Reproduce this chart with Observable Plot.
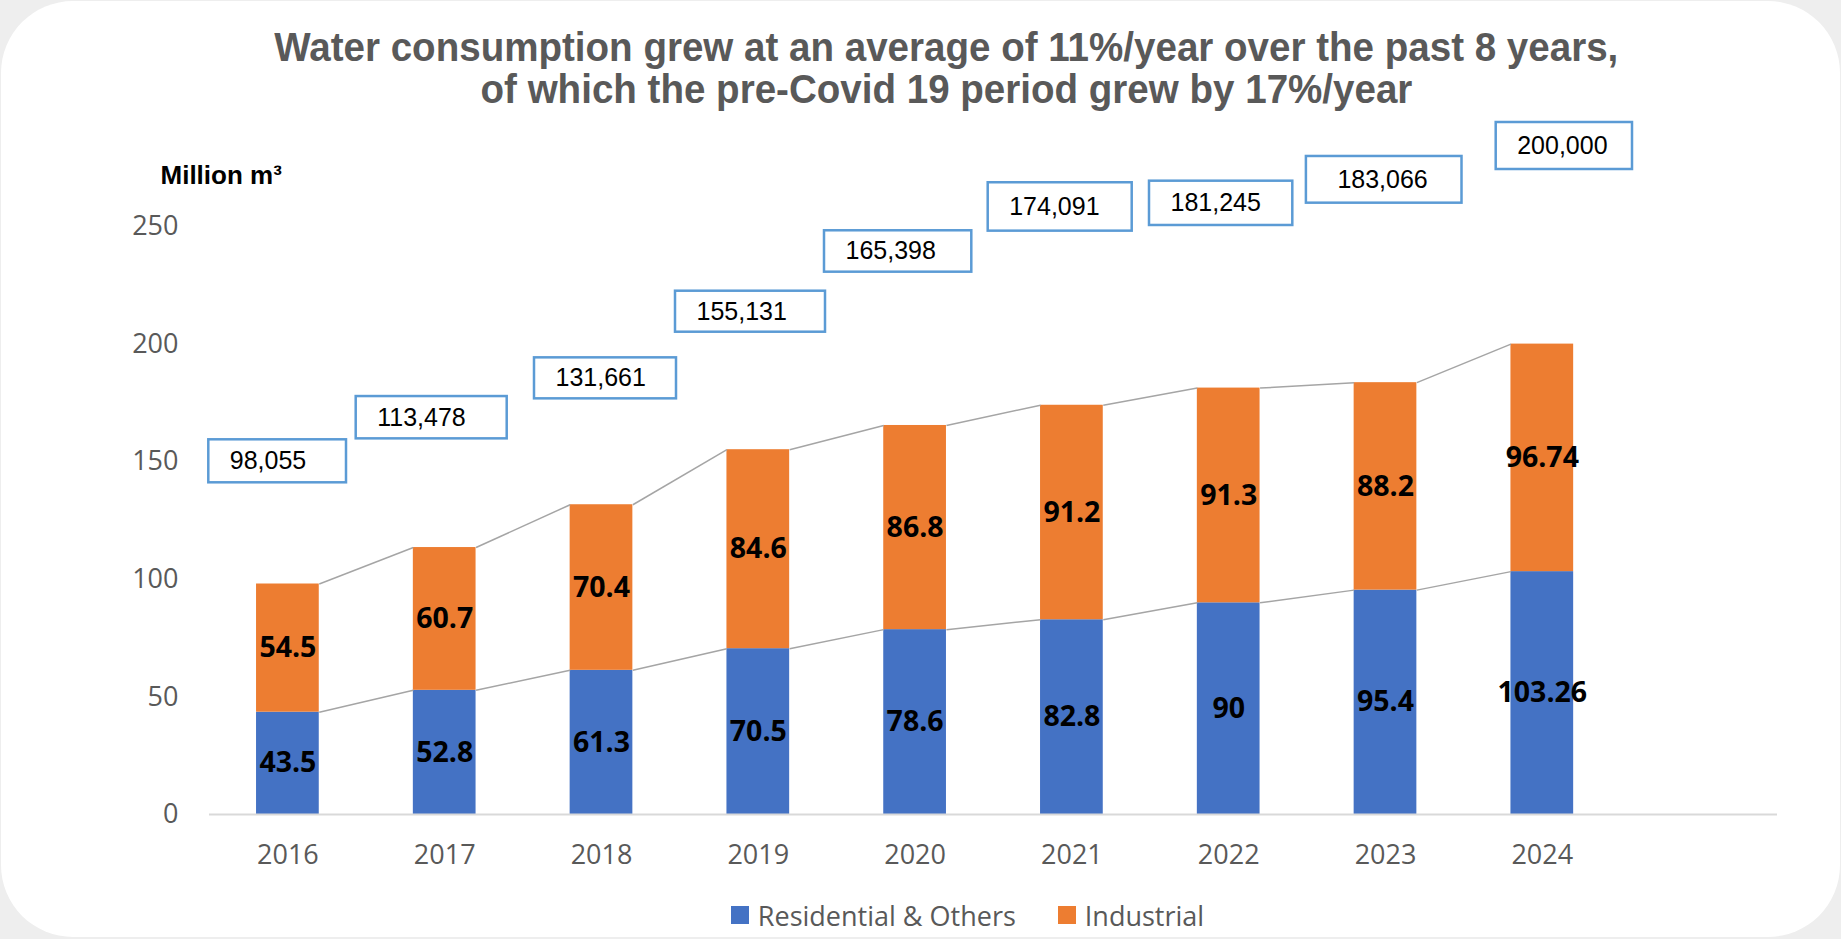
<!DOCTYPE html>
<html>
<head>
<meta charset="utf-8">
<script src="https://cdn.jsdelivr.net/npm/d3@7"></script>
<script src="https://cdn.jsdelivr.net/npm/@observablehq/plot@0.6"></script>
<style>
  html, body { margin: 0; padding: 0; background: #eeeeee; }
  #page { position: relative; width: 1841px; height: 939px; overflow: hidden; background: #eeeeee; }
  #card { position: absolute; left: 1px; top: 1px; width: 1839px; height: 936px; border-radius: 72px; background: #ffffff; }
  #content { position: absolute; left: 0; top: 0; width: 1841px; }
  #title { height: 110px; box-sizing: border-box; padding-top: 26px; padding-left: 51px; text-align: center;
           font-family: 'Liberation Sans Narrow', 'Liberation Sans', Arial, sans-serif; font-weight: bold;
           font-size: 40px; line-height: 42px; color: #595959; }
  #title .line { white-space: nowrap; }
  #title .line span { display: inline-block; transform-origin: center center; }
  #chart svg { display: block; overflow: visible; }
  #legend { width: 1841px; height: 54px; box-sizing: border-box; padding-left: 94px; padding-bottom: 4px; display: flex; justify-content: center;
            align-items: center; font-family: 'Open Sans', sans-serif; font-size: 27px; color: #595959; }
  #legend .item { display: flex; align-items: center; }
  #legend .item + .item { margin-left: 42px; }
  #legend .sw { width: 18px; height: 18px; margin-right: 9px; display: inline-block; }
</style>
</head>
<body>
<div id="page">
  <div id="card"></div>
  <div id="content">
    <div id="title"></div>
    <div id="chart"></div>
    <div id="legend"></div>
  </div>
</div>
<script>
// ---- data ----
const years = [2016, 2017, 2018, 2019, 2020, 2021, 2022, 2023, 2024];
const residential = [43.5, 52.8, 61.3, 70.5, 78.6, 82.8, 90, 95.4, 103.26];
const industrial = [54.5, 60.7, 70.4, 84.6, 86.8, 91.2, 91.3, 88.2, 96.74];
const totalLabels = [98055, 113478, 131661, 155131, 165398, 174091, 181245, 183066, 200000];
const yTicks = [0, 50, 100, 150, 200, 250];
const seriesNames = ["Residential & Others", "Industrial"];
const seriesColors = ["#4472c4", "#ed7d31"];
const titleLines = [
  "Water consumption grew at an average of 11%/year over the past 8 years,",
  "of which the pre-Covid 19 period grew by 17%/year"
];
const yLabel = "Million m³";

// ---- layout of the total-label callout boxes (pixel offsets from bar centre / bar top) ----
const boxLeft   = [-79.1, -88.5, -67, -82.8, -90.6, -83.7, -79.2, -79.1, -46.1];
const boxRight  = [58.6, 62.5, 75, 67.2, 56.7, 60.3, 64.1, 76.5, 90.2];
const boxTop    = [-144.2, -151, -146.9, -158.5, -194.7, -222.5, -206.9, -226.2, -221.6];
const boxBottom = [-101.2, -108.7, -105.9, -117.5, -153.3, -174.1, -162.6, -179.5, -174.6];
const boxPad    = [21, 21, 21, 21, 21, 21, 21, 31, 21];

// ---- title ----
const titleEl = document.getElementById("title");
const spans = titleLines.map(t => {
  const div = document.createElement("div");
  div.className = "line";
  const s = document.createElement("span");
  s.textContent = t;
  div.appendChild(s);
  titleEl.appendChild(div);
  return s;
});
const w0 = spans[0].getBoundingClientRect().width;
const sx = 1344 / w0;
spans.forEach(s => s.style.transform = `scaleX(${sx})`);

// ---- chart ----
const rows = years.map((year, i) => ({
  year, res: residential[i], ind: industrial[i],
  total: residential[i] + industrial[i], label: totalLabels[i]
}));
const segs = rows.flatMap(d => [
  {year: d.year, series: seriesNames[0], y1: 0, y2: d.res, v: d.res},
  {year: d.year, series: seriesNames[1], y1: d.res, y2: d.total, v: d.ind}
]);
const links = rows.slice(0, -1).flatMap((d, i) => {
  const n = rows[i + 1];
  return [
    {x1: d.year, x2: n.year, y1: d.res, y2: n.res},
    {x1: d.year, x2: n.year, y1: d.total, y2: n.total}
  ];
});
const HALF = 0.2;
const fmt = d3.format(",");
const arial = "'Liberation Sans', Arial, sans-serif";

const boxMarks = rows.flatMap((d, i) => [
  Plot.rect([d], {
    x1: "year", x2: "year", y1: "total", y2: "total",
    insetLeft: boxLeft[i], insetRight: -boxRight[i],
    insetTop: boxTop[i], insetBottom: -boxBottom[i],
    fill: "#ffffff", stroke: "#5b9bd5", strokeWidth: 2.5
  }),
  Plot.text([d], {
    x: "year", y: "total", dx: boxLeft[i] + boxPad[i], dy: (boxTop[i] + boxBottom[i]) / 2,
    text: r => fmt(r.label), textAnchor: "start", fontSize: 25, fontFamily: arial, fill: "#000000"
  })
]);

const chart = Plot.plot({
  width: 1841, height: 780,
  marginLeft: 209, marginRight: 64, marginTop: 116, marginBottom: 76,
  x: {type: "linear", domain: [2015.5, 2025.5], axis: null, label: null},
  y: {domain: [0, 250], axis: null, label: null},
  color: {domain: seriesNames, range: seriesColors},
  style: {background: "transparent", fontFamily: "'Open Sans', sans-serif", overflow: "visible"},
  marks: [
    Plot.rect(segs, {x1: d => d.year - HALF, x2: d => d.year + HALF, y1: "y1", y2: "y2", fill: "series"}),
    Plot.ruleY([0], {stroke: "#d9d9d9", strokeWidth: 2}),
    Plot.link(links, {x1: d => d.x1 + HALF, x2: d => d.x2 - HALF, y1: "y1", y2: "y2", stroke: "#a5a5a5", strokeWidth: 1.5}),
    Plot.text(segs, {x: "year", y: d => (d.y1 + d.y2) / 2, text: d => String(d.v), fontWeight: "bold", fontSize: 28.5, fill: "#000000"}),
    Plot.axisX({ticks: years, tickFormat: d => String(d), tickSize: 0, tickPadding: 30, fontSize: 27, fill: "#595959", label: null}),
    Plot.axisY({ticks: yTicks, tickSize: 0, tickPadding: 31, fontSize: 27, fill: "#595959", label: null}),
    Plot.text([yLabel], {frameAnchor: "top-left", text: d => d, dx: -49, dy: -50.5, textAnchor: "start", lineAnchor: "middle",
      fontWeight: "bold", fontSize: 26, fontFamily: arial, fill: "#000000"}),
    ...boxMarks
  ]
});
document.getElementById("chart").appendChild(chart);

// ---- legend ----
const legend = document.getElementById("legend");
seriesNames.forEach((name, i) => {
  const item = document.createElement("div");
  item.className = "item";
  const sw = document.createElement("span");
  sw.className = "sw";
  sw.style.background = seriesColors[i];
  const lab = document.createElement("span");
  lab.textContent = name;
  item.appendChild(sw);
  item.appendChild(lab);
  legend.appendChild(item);
});
</script>
</body>
</html>
